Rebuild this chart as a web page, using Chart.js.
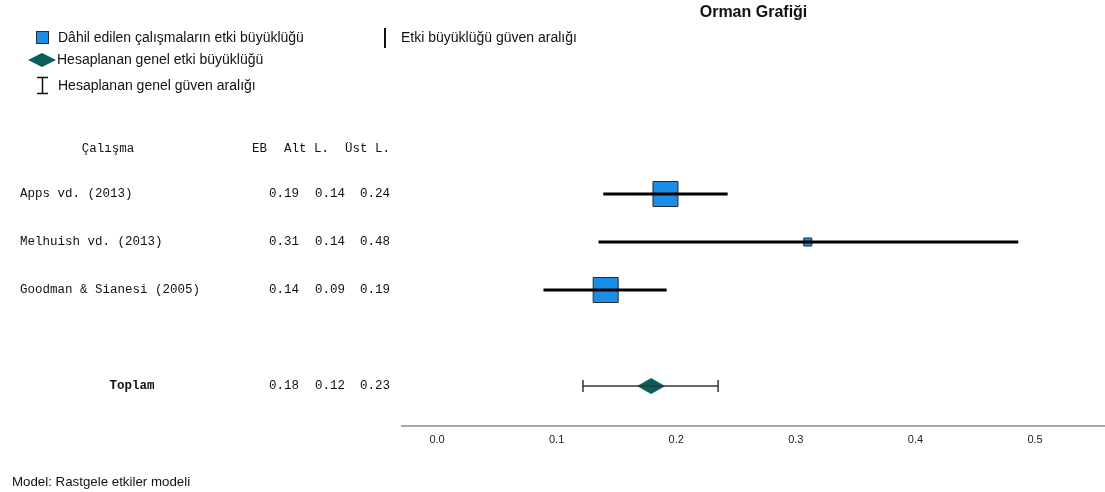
<!DOCTYPE html>
<html lang="tr">
<head>
    <meta charset="UTF-8">
    <meta name="viewport" content="width=device-width, initial-scale=1.0">
    <title>Orman Grafiği</title>
    <script src="https://cdn.jsdelivr.net/npm/chart.js"></script>
    <style>
        html, body { margin: 0; padding: 0; background: #fff; }
    </style>
</head>
<body>
    <canvas id="forestPlot" width="1105" height="492"></canvas>
    <script>
// studies in the forest plot
const studies = ['Apps vd. (2013)', 'Melhuish vd. (2013)', 'Goodman & Sianesi (2005)'];
const effect = [0.191, 0.310, 0.141];
const ciLow = [0.139, 0.135, 0.089];
const ciHigh = [0.243, 0.486, 0.192];
// numbers as they are printed in the table
const ebText = ['0.19', '0.31', '0.14'];
const altText = ['0.14', '0.14', '0.09'];
const ustText = ['0.24', '0.48', '0.19'];
// overall (random effects) estimate
const totalLabel = 'Toplam';
const totalEffect = 0.179;
const totalLow = 0.122;
const totalHigh = 0.235;
const totalText = ['0.18', '0.12', '0.23'];
const xTicks = [0, 0.1, 0.2, 0.3, 0.4, 0.5];

// row slots on the (hidden) y scale
const rowOf = studies.map((s, i) => i);
const totalRow = 4;
const headerRow = -0.95;
// square size of each study marker (px side)
const squareSide = [25, 8, 25];

const BLUE = '#1a8de6';
const TEAL = '#0a5f5a';
const SANS = '"Liberation Sans", Arial, sans-serif';
const MONO = '"Liberation Mono", "Courier New", monospace';

// diamond image for the overall estimate
function makeDiamond(w, h) {
  const c = document.createElement('canvas');
  c.width = w; c.height = h;
  const g = c.getContext('2d');
  g.fillStyle = TEAL;
  g.beginPath();
  g.moveTo(0, h / 2); g.lineTo(w / 2, 0); g.lineTo(w, h / 2); g.lineTo(w / 2, h);
  g.closePath();
  g.fill();
  return c;
}

const datasets = [];
// CI lines first so they sit on top of the squares
studies.forEach((s, i) => {
  datasets.push({
    data: [{x: ciLow[i], y: rowOf[i]}, {x: ciHigh[i], y: rowOf[i]}],
    showLine: true,
    borderColor: '#000',
    borderWidth: 3,
    pointRadius: 0
  });
});
datasets.push({
  data: [{x: totalLow, y: totalRow}, {x: totalHigh, y: totalRow}],
  showLine: true,
  borderColor: '#333',
  borderWidth: 1.5,
  pointStyle: 'line',
  rotation: 90,
  pointRadius: 6,
  pointBorderColor: '#333',
  pointBorderWidth: 1.5
});
datasets.push({
  data: studies.map((s, i) => ({x: effect[i], y: rowOf[i]})),
  pointStyle: 'rect',
  pointRadius: ctx => squareSide[ctx.dataIndex] / (2 * Math.SQRT1_2),
  pointBackgroundColor: BLUE,
  pointBorderColor: '#2a2a2a',
  pointBorderWidth: 1
});
datasets.push({
  data: [{x: totalEffect, y: totalRow}],
  pointStyle: makeDiamond(28, 16),
  pointRadius: 8
});

// all the text around the plot: title, legend, table, footer
const textPlugin = {
  id: 'forestText',
  afterDraw(chart) {
    const ctx = chart.ctx;
    const y = chart.scales.y;
    ctx.save();
    ctx.fillStyle = '#111';
    ctx.textBaseline = 'middle';

    // title
    ctx.font = 'bold 16px ' + SANS;
    ctx.textAlign = 'center';
    ctx.fillText('Orman Grafiği', (chart.chartArea.left + chart.chartArea.right) / 2, 13);

    // legend
    ctx.font = '14px ' + SANS;
    ctx.textAlign = 'left';
    ctx.fillStyle = BLUE;
    ctx.strokeStyle = '#2a2a2a';
    ctx.lineWidth = 1;
    ctx.fillRect(36, 31, 13, 13);
    ctx.strokeRect(36.5, 31.5, 12, 12);
    ctx.fillStyle = '#111';
    ctx.fillText('Dâhil edilen çalışmaların etki büyüklüğü', 58, 38);
    ctx.drawImage(makeDiamond(28, 14), 28, 53);
    ctx.fillText('Hesaplanan genel etki büyüklüğü', 57, 60);
    ctx.strokeStyle = '#111';
    ctx.lineWidth = 1.5;
    ctx.beginPath();
    ctx.moveTo(42.5, 77); ctx.lineTo(42.5, 94);
    ctx.moveTo(37, 77.5); ctx.lineTo(48, 77.5);
    ctx.moveTo(37, 93.5); ctx.lineTo(48, 93.5);
    ctx.stroke();
    ctx.fillText('Hesaplanan genel güven aralığı', 58, 86);
    ctx.lineWidth = 2;
    ctx.beginPath();
    ctx.moveTo(385, 28); ctx.lineTo(385, 48);
    ctx.stroke();
    ctx.fillText('Etki büyüklüğü güven aralığı', 401, 38);

    // table
    ctx.font = '12.5px ' + MONO;
    const hy = y.getPixelForValue(headerRow);
    ctx.textAlign = 'center';
    ctx.fillText('Çalışma', 108, hy);
    ctx.textAlign = 'right';
    ctx.fillText('EB', 267, hy);
    ctx.fillText('Alt L.', 329, hy);
    ctx.fillText('Üst L.', 390, hy);
    studies.forEach((s, i) => {
      const ry = y.getPixelForValue(rowOf[i]);
      ctx.textAlign = 'left';
      ctx.fillText(s, 20, ry);
      ctx.textAlign = 'right';
      ctx.fillText(ebText[i], 299, ry);
      ctx.fillText(altText[i], 345, ry);
      ctx.fillText(ustText[i], 390, ry);
    });
    const ty = y.getPixelForValue(totalRow);
    ctx.font = 'bold 12.5px ' + MONO;
    ctx.textAlign = 'center';
    ctx.fillText(totalLabel, 132, ty);
    ctx.font = '12.5px ' + MONO;
    ctx.textAlign = 'right';
    ctx.fillText(totalText[0], 299, ty);
    ctx.fillText(totalText[1], 345, ty);
    ctx.fillText(totalText[2], 390, ty);

    // footer
    ctx.font = '13.3px ' + SANS;
    ctx.textAlign = 'left';
    ctx.fillText('Model: Rastgele etkiler modeli', 12, 482);
    ctx.restore();
  }
};

const chart = new Chart(document.getElementById('forestPlot'), {
  type: 'scatter',
  data: {datasets: datasets},
  plugins: [textPlugin],
  options: {
    responsive: false,
    animation: false,
    devicePixelRatio: 1,
    events: [],
    layout: {autoPadding: false, padding: {left: 402, right: 0, top: 122, bottom: 26}},
    plugins: {
      legend: {display: false},
      tooltip: {enabled: false},
      title: {display: false}
    },
    scales: {
      x: {
        type: 'linear',
        min: -0.0293,
        max: 0.5585,
        afterBuildTicks: s => { s.ticks = xTicks.map(v => ({value: v})); },
        afterFit: s => { s.height = 40; s.paddingLeft = 0; s.paddingRight = 0; },
        grid: {display: false, drawTicks: false},
        border: {display: true, color: '#a8a8a8', width: 2},
        ticks: {
          callback: v => v.toFixed(1),
          font: {family: SANS, size: 11},
          color: '#222',
          padding: 7,
          maxRotation: 0,
          autoSkip: false
        }
      },
      y: {
        type: 'linear',
        reverse: true,
        min: -1.5,
        max: 4.8333,
        display: false
      }
    }
  }
});
    </script>
</body>
</html>
